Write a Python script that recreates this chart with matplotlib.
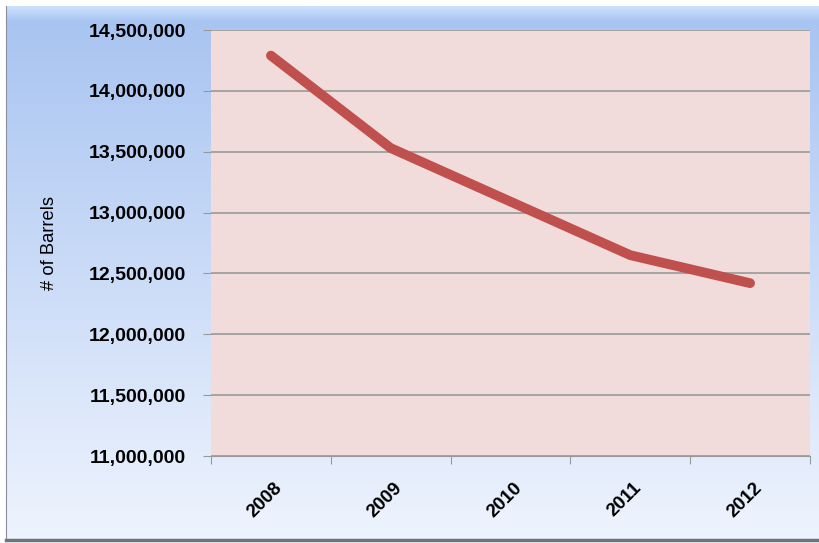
import numpy as np
import matplotlib.pyplot as plt
import matplotlib.transforms as mtransforms
from matplotlib.ticker import FuncFormatter

# data
years = ["2008", "2009", "2010", "2011", "2012"]
barrels = [14290000, 13530000, 13090000, 12650000, 12420000]
y_ticks = [11000000, 11500000, 12000000, 12500000, 13000000, 13500000, 14000000, 14500000]

W, H = 820, 543
fig = plt.figure(figsize=(W / 100, H / 100), dpi=100)
fig.patch.set_facecolor("white")

# blue gradient panel behind the chart
bg = fig.add_axes([6 / W, 3 / H, 814 / W, 534 / H], zorder=-1)
top = np.array([0.655, 0.765, 0.945])
bot = np.array([0.935, 0.957, 0.995])
t = np.linspace(0, 1, 256)[:, None]
grad = top + (bot - top) * t
grad = grad[:, None, :].repeat(2, axis=1)
# light highlight strip at the top
grad[:8] = np.linspace([0.80, 0.88, 0.99], top, 8)[:, None, :]
bg.imshow(grad, aspect="auto", extent=[0, 1, 0, 1], origin="upper")
bg.set_xlim(0, 1)
bg.set_ylim(0, 1)
bg.set_xticks([])
bg.set_yticks([])
for side in ["top", "right"]:
    bg.spines[side].set_visible(False)
bg.spines["left"].set_color("#8a8f99")
bg.spines["bottom"].set_color("#6f737a")
bg.spines["bottom"].set_linewidth(2.5)

ax = fig.add_axes([211 / W, 1 - 456 / H, 599 / W, 426 / H])
ax.set_facecolor("#f2dcdb")

x = np.arange(len(years))
ax.plot(x, barrels, color="#c0504d", lw=7, solid_capstyle="round",
        solid_joinstyle="round", zorder=3)

ax.set_xlim(-0.5, len(years) - 0.5)
ax.set_ylim(y_ticks[0], y_ticks[-1])
ax.set_yticks(y_ticks)
ax.yaxis.set_major_formatter(FuncFormatter(lambda v, p: f"{int(v):,}"))
ax.grid(axis="y", color="#999999", lw=1.2, zorder=1)
ax.set_axisbelow(True)

# category ticks sit between the years
ax.set_xticks(np.arange(-0.5, len(years), 1.0))
ax.set_xticklabels([])
ax.set_xticks(x, minor=True)
ax.set_xticklabels(years, minor=True, rotation=45, ha="right", va="top",
                   rotation_mode="anchor", fontsize=13.5, fontweight="bold",
                   family="Liberation Sans")
ax.tick_params(axis="x", which="minor", length=0, pad=17)
ax.tick_params(axis="x", which="major", length=6, color="#999999", direction="out")
off = mtransforms.ScaledTranslation(3 / 100, 0, fig.dpi_scale_trans)
for lab in ax.xaxis.get_minorticklabels():
    lab.set_transform(lab.get_transform() + off)

ax.tick_params(axis="y", length=5.8, color="#999999", pad=12)
for lab in ax.get_yticklabels():
    lab.set_fontsize(14)
    lab.set_fontweight("bold")
    lab.set_family("Liberation Sans")

for side in ["top", "right"]:
    ax.spines[side].set_visible(False)
ax.spines["left"].set_visible(False)
ax.spines["bottom"].set_color("#999999")

ax.set_ylabel("# of Barrels", fontsize=13.2, family="Liberation Sans", labelpad=0)
ax.yaxis.set_label_coords(-153 / 599, 0.5)

fig.savefig("out.png", dpi=100, facecolor="white")
